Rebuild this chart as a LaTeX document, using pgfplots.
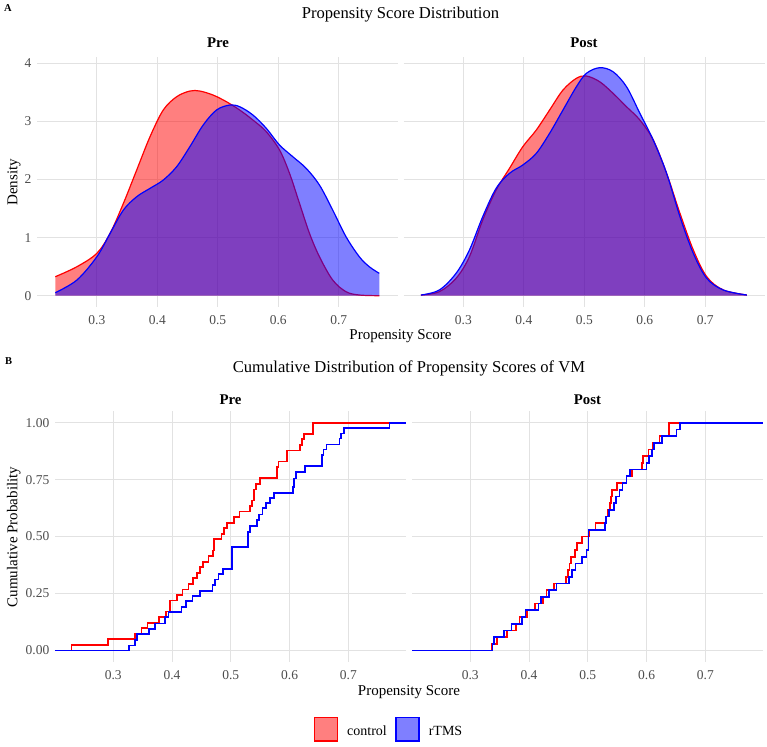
\documentclass[border=0pt]{standalone}
\usepackage{fontspec}
\setmainfont{Liberation Serif}
\usepackage{pgfplots}
\pgfplotsset{compat=1.18}

\definecolor{gridgrey}{HTML}{E2E2E2}
\definecolor{tickgrey}{HTML}{4D4D4D}
\definecolor{ctrl}{HTML}{FF0000}
\definecolor{rtms}{HTML}{0000FF}

\pgfplotsset{
  facet/.style={
    scale only axis, anchor=south west,
    xmin=0.201, xmax=0.798,
    xtick={0.3,0.4,0.5,0.6,0.7},
    xticklabels={0.3,0.4,0.5,0.6,0.7},
    grid=major, grid style={draw=gridgrey, line width=0.9pt},
    axis line style={draw=none},
    major tick length=0pt, tick style={draw=none},
    /pgf/number format/assume math mode=true,
    ticklabel style={font=\fontsize{13.5}{14}\selectfont, text=tickgrey},
    xticklabel style={anchor=north, inner sep=0pt, yshift=-8.5pt},
    yticklabel style={anchor=east, inner sep=0pt, xshift=-5.5pt},
  },
  density/.style={facet, width=361pt, height=250.5pt,
    ymin=-0.196, ymax=4.116, ytick={0,1,2,3,4}, yticklabels={0,1,2,3,4}},
  ecdf/.style={facet, width=351pt, height=250.6pt,
    ymin=-0.05, ymax=1.05, ytick={0,0.25,0.5,0.75,1},
    yticklabels={0.00,0.25,0.50,0.75,1.00}},
  densfill/.style={draw=none, fill=#1, fill opacity=0.5, smooth, tension=0.55},
  densline/.style={draw=#1, line width=1.2pt, smooth, tension=0.55},
  ecdfline/.style={draw=#1, line width=1.7pt, const plot, mark=none, line join=miter},
}

\newcommand\striplabel[1]{\fontsize{14.8}{16}\selectfont\bfseries #1}

\begin{document}
\begin{tikzpicture}
\useasboundingbox (0pt,0pt) rectangle (767pt,746pt);

% ---------------- A: density of propensity scores ----------------
\node[anchor=base west, inner sep=0pt] at (4pt,734pt) {\fontsize{10.5}{12}\selectfont\bfseries A};
\node[anchor=base, inner sep=0pt] at (400.5pt,727.7pt) {\fontsize{16.6}{18}\selectfont Propensity Score Distribution};
\node[anchor=base, inner sep=0pt] at (218pt,698pt) {\striplabel{Pre}};
\node[anchor=base, inner sep=0pt] at (584pt,698pt) {\striplabel{Post}};
\node[anchor=base, inner sep=0pt, rotate=90] at (17.3pt,563.5pt) {\fontsize{15}{16}\selectfont Density};
\node[anchor=base, inner sep=0pt] at (400.5pt,406.5pt) {\fontsize{15}{16}\selectfont Propensity Score};

\begin{axis}[density, at={(37pt,438.9pt)}]
  \addplot[densfill=ctrl] coordinates {
    (0.2313,0.327) (0.267,0.499) (0.300,0.730) (0.3219,1.074) (0.3439,1.590)
    (0.3659,2.164) (0.3879,2.737) (0.4098,3.196) (0.4319,3.425) (0.4538,3.523)
    (0.4703,3.523) (0.4922,3.454) (0.5143,3.339) (0.5362,3.196) (0.5581,3.024)
    (0.5802,2.823) (0.6021,2.508) (0.6186,2.107) (0.6351,1.590) (0.6516,1.074)
    (0.6681,0.671) (0.690,0.270) (0.712,0.069) (0.734,0.012) (0.767,0.0)
  } \closedcycle;
  \addplot[densline=ctrl] coordinates {
    (0.2313,0.327) (0.267,0.499) (0.300,0.730) (0.3219,1.074) (0.3439,1.590)
    (0.3659,2.164) (0.3879,2.737) (0.4098,3.196) (0.4319,3.425) (0.4538,3.523)
    (0.4703,3.523) (0.4922,3.454) (0.5143,3.339) (0.5362,3.196) (0.5581,3.024)
    (0.5802,2.823) (0.6021,2.508) (0.6186,2.107) (0.6351,1.590) (0.6516,1.074)
    (0.6681,0.671) (0.690,0.270) (0.712,0.069) (0.734,0.012) (0.767,0.0)
  };
  \addplot[densfill=rtms] coordinates {
    (0.2313,0.052) (0.267,0.270) (0.300,0.671) (0.3219,1.074) (0.3439,1.475)
    (0.3659,1.704) (0.3879,1.848) (0.4098,1.991) (0.4319,2.220) (0.4538,2.565)
    (0.4758,2.938) (0.4978,3.196) (0.5197,3.282) (0.5362,3.253) (0.5581,3.110)
    (0.5802,2.881) (0.6021,2.594) (0.6241,2.392) (0.6461,2.193) (0.6681,1.905)
    (0.690,1.475) (0.712,1.016) (0.734,0.671) (0.7505,0.499) (0.767,0.385)
  } \closedcycle;
  \addplot[densline=rtms] coordinates {
    (0.2313,0.052) (0.267,0.270) (0.300,0.671) (0.3219,1.074) (0.3439,1.475)
    (0.3659,1.704) (0.3879,1.848) (0.4098,1.991) (0.4319,2.220) (0.4538,2.565)
    (0.4758,2.938) (0.4978,3.196) (0.5197,3.282) (0.5362,3.253) (0.5581,3.110)
    (0.5802,2.881) (0.6021,2.594) (0.6241,2.392) (0.6461,2.193) (0.6681,1.905)
    (0.690,1.475) (0.712,1.016) (0.734,0.671) (0.7505,0.499) (0.767,0.385)
  };
\end{axis}

\begin{axis}[density, at={(403.5pt,438.9pt)}, yticklabels={}]
  \addplot[densfill=ctrl] coordinates {
    (0.2299,0.012) (0.2602,0.069) (0.2879,0.299) (0.310,0.671) (0.332,1.303)
    (0.3542,1.819) (0.3763,2.193) (0.3983,2.565) (0.4206,2.852) (0.4426,3.196)
    (0.4647,3.540) (0.4869,3.742) (0.5035,3.782) (0.5255,3.683) (0.5476,3.483)
    (0.5698,3.253) (0.5919,3.024) (0.614,2.680) (0.6361,2.107) (0.6582,1.418)
    (0.6803,0.786) (0.7025,0.327) (0.730,0.098) (0.7688,0.012)
  } \closedcycle;
  \addplot[densline=ctrl] coordinates {
    (0.2299,0.012) (0.2602,0.069) (0.2879,0.299) (0.310,0.671) (0.332,1.303)
    (0.3542,1.819) (0.3763,2.193) (0.3983,2.565) (0.4206,2.852) (0.4426,3.196)
    (0.4647,3.540) (0.4869,3.742) (0.5035,3.782) (0.5255,3.683) (0.5476,3.483)
    (0.5698,3.253) (0.5919,3.024) (0.614,2.680) (0.6361,2.107) (0.6582,1.418)
    (0.6803,0.786) (0.7025,0.327) (0.730,0.098) (0.7688,0.012)
  };
  \addplot[densfill=rtms] coordinates {
    (0.2299,0.012) (0.2602,0.098) (0.2879,0.385) (0.310,0.786) (0.332,1.360)
    (0.3542,1.848) (0.3763,2.107) (0.3983,2.250) (0.4206,2.451) (0.4426,2.795)
    (0.4647,3.196) (0.4869,3.597) (0.5035,3.828) (0.5255,3.925) (0.5476,3.855)
    (0.5698,3.597) (0.5919,3.139) (0.614,2.680) (0.6361,2.107) (0.6582,1.360)
    (0.6803,0.729) (0.7025,0.299) (0.730,0.098) (0.7688,0.012)
  } \closedcycle;
  \addplot[densline=rtms] coordinates {
    (0.2299,0.012) (0.2602,0.098) (0.2879,0.385) (0.310,0.786) (0.332,1.360)
    (0.3542,1.848) (0.3763,2.107) (0.3983,2.250) (0.4206,2.451) (0.4426,2.795)
    (0.4647,3.196) (0.4869,3.597) (0.5035,3.828) (0.5255,3.925) (0.5476,3.855)
    (0.5698,3.597) (0.5919,3.139) (0.614,2.680) (0.6361,2.107) (0.6582,1.360)
    (0.6803,0.729) (0.7025,0.299) (0.730,0.098) (0.7688,0.012)
  };
\end{axis}

% ---------------- B: empirical cumulative distributions ----------------
\node[anchor=base west, inner sep=0pt] at (5pt,381pt) {\fontsize{10.5}{12}\selectfont\bfseries B};
\node[anchor=base, inner sep=0pt] at (409pt,373.5pt) {\fontsize{16.6}{18}\selectfont Cumulative Distribution of Propensity Scores of VM};
\node[anchor=base, inner sep=0pt] at (230.5pt,341pt) {\striplabel{Pre}};
\node[anchor=base, inner sep=0pt] at (587.5pt,341pt) {\striplabel{Post}};
\node[anchor=base, inner sep=0pt, rotate=90] at (17.3pt,209pt) {\fontsize{15}{16}\selectfont Cumulative Probability};
\node[anchor=base, inner sep=0pt] at (409pt,51pt) {\fontsize{15}{16}\selectfont Propensity Score};

\begin{axis}[ecdf, at={(55pt,84.1pt)}]
  \addplot[ecdfline=ctrl] coordinates {
    (0.201,0) (0.229,0.024) (0.2915,0.049) (0.337,0.073) (0.348,0.098)
    (0.3585,0.122) (0.378,0.146) (0.390,0.171) (0.3965,0.220) (0.408,0.244)
    (0.418,0.268) (0.428,0.293) (0.436,0.317) (0.442,0.341) (0.448,0.366)
    (0.453,0.390) (0.462,0.415) (0.470,0.439) (0.472,0.488) (0.484,0.512)
    (0.489,0.537) (0.493,0.561) (0.505,0.585) (0.515,0.610) (0.533,0.634)
    (0.536,0.659) (0.540,0.707) (0.543,0.732) (0.550,0.756) (0.578,0.805)
    (0.581,0.829) (0.596,0.878) (0.618,0.902) (0.621,0.927) (0.625,0.951)
    (0.640,1.0) (0.798,1.0)
  };
  \addplot[ecdfline=rtms] coordinates {
    (0.201,0) (0.327,0.022) (0.337,0.046) (0.3405,0.071) (0.361,0.094)
    (0.371,0.119) (0.388,0.146) (0.394,0.170) (0.416,0.192) (0.424,0.218)
    (0.435,0.240) (0.448,0.262) (0.469,0.287) (0.473,0.312) (0.479,0.335)
    (0.487,0.357) (0.5015,0.453) (0.529,0.521) (0.533,0.546) (0.544,0.572)
    (0.5485,0.597) (0.554,0.624) (0.560,0.646) (0.567,0.668) (0.5735,0.692)
    (0.6054,0.718) (0.6076,0.755) (0.611,0.784) (0.626,0.809) (0.6547,0.857)
    (0.6575,0.882) (0.663,0.904) (0.6847,0.931) (0.687,0.953) (0.6927,0.977)
    (0.770,1.0) (0.798,1.0)
  };
\end{axis}

\begin{axis}[ecdf, at={(412pt,84.1pt)}, yticklabels={}]
  \addplot[ecdfline=ctrl] coordinates {
    (0.201,0) (0.336,0.0294) (0.346,0.0588) (0.362,0.0882) (0.378,0.1176)
    (0.384,0.1471) (0.396,0.1765) (0.410,0.2059) (0.424,0.2353) (0.430,0.2647)
    (0.443,0.2941) (0.463,0.3235) (0.466,0.3529) (0.469,0.3824) (0.472,0.4118)
    (0.478,0.4412) (0.482,0.4706) (0.4905,0.5000) (0.503,0.5294) (0.513,0.5588)
    (0.531,0.5882) (0.534,0.6176) (0.538,0.6471) (0.540,0.6765) (0.541,0.7059)
    (0.5497,0.7353) (0.566,0.7647) (0.575,0.7941) (0.592,0.8235) (0.594,0.8529)
    (0.603,0.8824) (0.610,0.9118) (0.622,0.9412) (0.638,1.0) (0.798,1.0)
  };
  \addplot[ecdfline=rtms] coordinates {
    (0.201,0) (0.338,0.0294) (0.340,0.0588) (0.358,0.0882) (0.370,0.1176)
    (0.388,0.1471) (0.394,0.1765) (0.416,0.2059) (0.420,0.2353) (0.434,0.2647)
    (0.447,0.2941) (0.468,0.3235) (0.473,0.3529) (0.479,0.3824) (0.490,0.4118)
    (0.498,0.4412) (0.501,0.5294) (0.529,0.5588) (0.531,0.5882) (0.536,0.6176)
    (0.544,0.6471) (0.548,0.6765) (0.554,0.7059) (0.559,0.7353) (0.566,0.7647)
    (0.572,0.7941) (0.600,0.8235) (0.604,0.8529) (0.609,0.8824) (0.612,0.9118)
    (0.626,0.9412) (0.651,0.9706) (0.657,1.0) (0.798,1.0)
  };
\end{axis}

% ---------------- shared legend ----------------
\draw[ctrl, line width=1.3pt, fill=ctrl, fill opacity=0.5] (314.5pt,5pt) rectangle (337.5pt,28.5pt);
\node[anchor=base west, inner sep=0pt] at (347pt,11pt) {\fontsize{14}{15}\selectfont control};
\draw[rtms, line width=1.3pt, fill=rtms, fill opacity=0.5] (396pt,5pt) rectangle (419pt,28.5pt);
\node[anchor=base west, inner sep=0pt] at (428.6pt,11pt) {\fontsize{14}{15}\selectfont rTMS};
\end{tikzpicture}
\end{document}
